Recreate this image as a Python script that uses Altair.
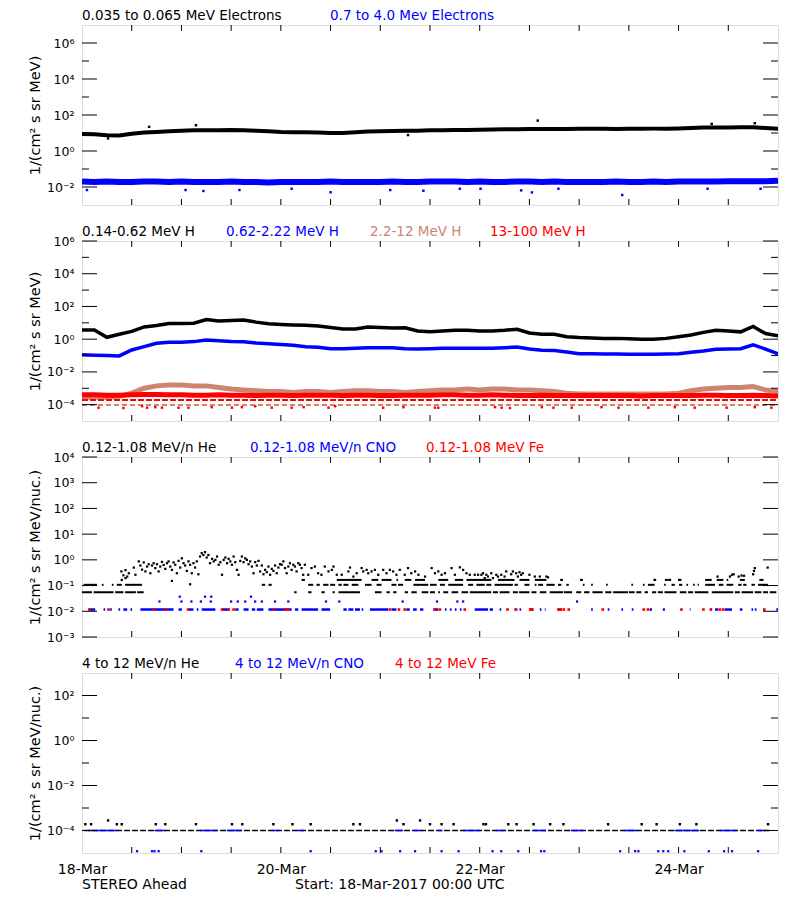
import altair as alt
import pandas as pd

START = pd.Timestamp("2017-03-18 00:00:00")
W, H = 696, 180
FONT = "DejaVu Sans"
BLACK, BLUE, RED, BROWN = "#000000", "#0000FF", "#FF0000", "#CD8570"

# ---------------- data (hours since 18-Mar-2017 00:00 UTC) ----------------
hours3 = list(range(0, 169, 3))

# Panel 1: electrons
e_low_black = [8.8, 8.5, 7.5, 7.2, 9.0, 10.5, 11.5, 12.5, 13.5, 14,
               14, 14, 14.5, 14, 13.5, 12.5, 11.5, 11, 11, 10.5,
               10, 10, 11, 12, 12.5, 13, 13.5, 13.5, 14, 14,
               14.5, 14.5, 15, 15.5, 16, 16, 16.5, 16.5, 16.5, 16.5,
               17, 17, 17, 16.5, 17, 17, 17.5, 17.5, 18, 19,
               20, 20, 20.5, 21, 21, 19, 17]
e_high_blue = [0.020, 0.019, 0.020, 0.019, 0.019, 0.020, 0.020, 0.019, 0.020, 0.019,
               0.019, 0.019, 0.020, 0.019, 0.019, 0.018, 0.019, 0.019, 0.019, 0.019,
               0.020, 0.019, 0.019, 0.019, 0.019, 0.020, 0.019, 0.019, 0.020, 0.020,
               0.020, 0.019, 0.020, 0.019, 0.019, 0.020, 0.020, 0.019, 0.020, 0.019,
               0.019, 0.019, 0.019, 0.020, 0.019, 0.019, 0.020, 0.019, 0.020, 0.020,
               0.020, 0.020, 0.021, 0.021, 0.021, 0.021, 0.022]
e_black_out_h = [6.3, 16.2, 27.5, 78.7, 110, 152, 162.4]
e_black_out_v = [5.0, 22, 27, 7.7, 49, 32, 35]
e_blue_out_h = [1.2, 25, 29.3, 38, 50.6, 60, 74.4, 82.4, 91.2, 96.2, 106, 108.6, 115, 130.4, 151, 163.8]
e_blue_out_v = [0.0068, 0.0068, 0.006, 0.0068, 0.008, 0.0051, 0.0068, 0.0062, 0.008, 0.008,
                0.0065, 0.005, 0.008, 0.0036, 0.008, 0.008]

# Panel 2: protons
h_014_062 = [3.7, 3.7, 1.3, 2.0, 3.0, 5.6, 6.9, 9.1, 9.1, 9.5,
             16, 13, 14, 15, 11, 8.7, 7.9, 7.4, 7.1, 6.3,
             5.2, 4.2, 4.2, 5.6, 5.2, 4.8, 5.0, 3.2, 2.8, 3.2,
             3.5, 3.5, 3.2, 3.2, 3.5, 4.0, 2.4, 2.0, 2.0, 1.4,
             1.26, 1.2, 1.12, 1.12, 1.05, 1.0, 1.0, 1.12, 1.4, 1.8,
             2.6, 3.5, 3.2, 2.8, 6.0, 2.2, 1.6]
h_062_222 = [0.11, 0.105, 0.10, 0.095, 0.22, 0.35, 0.56, 0.66, 0.66, 0.71,
             0.89, 0.79, 0.72, 0.69, 0.58, 0.52, 0.48, 0.42, 0.35, 0.32,
             0.26, 0.26, 0.28, 0.30, 0.30, 0.30, 0.26, 0.25, 0.26, 0.28,
             0.28, 0.28, 0.28, 0.28, 0.30, 0.33, 0.25, 0.21, 0.20, 0.166,
             0.13, 0.13, 0.126, 0.126, 0.12, 0.12, 0.12, 0.126, 0.13, 0.16,
             0.19, 0.24, 0.25, 0.26, 0.45, 0.25, 0.126]
h_22_12 = [2.8e-4, 2.8e-4, 2.8e-4, 3.2e-4, 5e-4, 1e-3, 1.4e-3, 1.6e-3, 1.6e-3, 1.4e-3,
           1.4e-3, 1.1e-3, 8.9e-4, 7.9e-4, 7.1e-4, 6.3e-4, 6.3e-4, 5.6e-4, 6.3e-4, 6.3e-4,
           5.6e-4, 6.3e-4, 7.1e-4, 7.1e-4, 6.3e-4, 6.3e-4, 5.6e-4, 6.3e-4, 7.1e-4, 7.9e-4,
           7.9e-4, 8.9e-4, 7.9e-4, 8.9e-4, 8.9e-4, 7.9e-4, 7.9e-4, 7.1e-4, 6.3e-4, 5e-4,
           4.5e-4, 4.5e-4, 4.5e-4, 4.5e-4, 4.5e-4, 4.5e-4, 4.5e-4, 4.5e-4, 5e-4, 7.1e-4,
           8.9e-4, 1e-3, 1.1e-3, 1.1e-3, 1.26e-3, 7.9e-4, 6.3e-4]
h_13_100 = [4.0e-4, 4.0e-4, 3.8e-4, 3.8e-4, 4.0e-4, 4.2e-4, 4.2e-4, 4.0e-4, 4.0e-4, 3.8e-4,
            3.8e-4, 4.0e-4, 3.8e-4, 3.8e-4, 3.6e-4, 3.8e-4, 3.8e-4, 3.6e-4, 3.8e-4, 3.8e-4,
            3.8e-4, 3.6e-4, 3.8e-4, 3.8e-4, 3.6e-4, 3.6e-4, 3.8e-4, 3.8e-4, 3.8e-4, 4.0e-4,
            4.0e-4, 3.8e-4, 3.8e-4, 4.0e-4, 3.8e-4, 3.6e-4, 3.6e-4, 3.8e-4, 3.6e-4, 3.6e-4,
            3.6e-4, 3.6e-4, 3.6e-4, 3.6e-4, 3.6e-4, 3.4e-4, 3.6e-4, 3.6e-4, 3.6e-4, 3.6e-4,
            3.8e-4, 3.8e-4, 3.6e-4, 3.6e-4, 3.8e-4, 3.6e-4, 3.4e-4]
h_13_100_row = 1.9e-4
h_22_12_row = 9.5e-5
h_13_100_low_h = [4.0, 10.0, 14.5, 15.7, 17.7, 19.3, 23.3, 25.7, 31.3, 36.2, 38.6, 41.8, 45.8, 50.6,
                  53.5, 59.5, 61.1, 72.7, 77.6, 85.2, 86.0, 99.7, 101.3, 103.3, 111.0, 113.8, 118.2,
                  125.4, 129.5, 136.7, 143.1, 147.9, 155.6, 162.4, 166.4]
h_13_100_low_v = [6.5e-5, 6.2e-5, 8e-5, 6.5e-5, 7e-5, 6.5e-5, 6.5e-5, 6.5e-5, 7e-5, 6.5e-5, 7e-5, 8e-5,
                  6.5e-5, 6.5e-5, 7e-5, 6.5e-5, 8e-5, 6.5e-5, 7e-5, 6.5e-5, 6.5e-5, 7e-5, 6.5e-5, 6.2e-5,
                  7e-5, 6.5e-5, 6.5e-5, 7e-5, 6.5e-5, 6.5e-5, 7e-5, 6.5e-5, 6.5e-5, 7e-5, 6.5e-5]

# Panel 3: 0.12-1.08 MeV/n
he_cloud_h = [9.5, 10.0, 10.5, 10.9, 11.3, 12.5, 12.9, 13.7, 14.1, 14.5, 14.9, 15.3, 15.7, 16.1, 16.5,
              16.9, 17.3, 17.7, 18.1, 18.5, 18.9, 19.3, 19.7, 20.1, 20.5, 20.9, 21.3, 21.7, 22.1, 22.5,
              22.9, 23.3, 23.7, 24.1, 24.5, 24.9, 25.3, 25.7, 26.1, 26.5, 26.9, 27.3, 27.7, 28.1, 28.5,
              28.9, 29.3, 29.7, 30.1, 30.5, 30.9, 31.4, 31.8, 32.2, 32.6, 33.0, 33.4, 33.8, 34.2, 34.6,
              35.0, 35.4, 35.8, 36.2, 36.6, 37.0, 37.4, 37.8, 38.2, 38.6, 39.0, 39.4, 39.8, 40.2, 40.6,
              41.0, 41.4, 41.8, 42.2, 42.6, 43.0, 43.4, 43.8, 44.2, 44.6, 45.0, 45.4, 45.8, 46.2, 46.6,
              47.0, 47.4, 47.8, 9.6, 10.5, 21.7, 26.1,
              48.2, 48.6, 49.0, 49.4, 49.8, 50.2, 50.6, 51.0, 51.4, 51.8, 52.2, 52.6, 53.0, 53.4, 53.8,
              54.6, 55.4, 56.2, 57.0, 57.8, 58.6, 59.5, 60.3, 60.7, 61.5, 62.7, 64.3, 64.7, 65.5, 66.3,
              67.5, 67.9, 68.7, 69.1, 69.9, 70.7, 71.5, 72.7, 73.5, 74.3, 75.1, 75.9, 76.7, 77.9, 78.7,
              79.5, 80.4, 81.2, 82.8, 84.4, 85.2, 86.0, 86.8, 87.6, 89.2, 90.0, 91.2, 92.0, 92.8, 93.6,
              94.8, 95.6,
              96.4, 96.8, 97.2, 97.6, 98.0, 98.8, 99.2, 100.0, 100.4, 101.2, 102.0, 102.4, 103.6, 104.0,
              104.8, 105.2, 105.6, 106.0, 106.4, 108.0, 109.3, 110.5, 112.1, 112.5, 115.7, 120.5, 138.2,
              141.8, 144.2,
              153.4, 156.4, 156.9, 157.3, 158.5, 159.2, 159.8, 162.0, 162.2, 162.4, 165.5]
he_cloud_log10 = [-0.45, -0.6, -0.4, -0.65, -0.52, -0.3, -0.58, -0.06, -0.22, -0.38, -0.1, -0.45, -0.26, -0.17, -0.52,
                  -0.22, -0.13, -0.32, -0.17, -0.45, -0.26, -0.08, -0.2, -0.35, -0.13, -0.06, -0.26, -0.39, -0.1, -0.19,
                  -0.52, -0.04, -0.3, 0.06, -0.13, -0.22, -0.43, -0.06, -0.19, -0.52, -0.13, -0.3, -0.06, -0.56, 0.13,
                  0.26, 0.19, 0.3, 0.09, 0.19, -0.13, 0.04, -0.06, 0.0, 0.13, -0.19, -0.09, -0.58, 0.0, 0.09,
                  -0.13, 0.04, -0.06, -0.19, 0.13, -0.09, -0.39, -0.58, -0.04, 0.13, -0.09, 0.06, 0.0, -0.17, -0.06,
                  -0.26, -0.52, -0.09, -0.22, -0.04, -0.45, -0.22, -0.56, -0.39, -0.48, -0.26, -0.58, -0.35, -0.43, -0.22,
                  -0.52, -0.3, -0.17, -0.78, -0.71, -0.82, -0.95,
                  -0.19, -0.06, -0.32, -0.52, -0.26, -0.13, -0.39, -0.19, -0.26, -0.45, -0.13, -0.19, -0.32, -0.58, -0.19,
                  -0.58, -0.32, -0.26, -0.52, -0.58, -0.26, -0.45, -0.39, -0.26, -0.58, -0.58, -0.45, -0.30, -0.65, -0.52,
                  -0.32, -0.45, -0.39, -0.52, -0.45, -0.39, -0.58, -0.39, -0.52, -0.39, -0.45, -0.58, -0.39, -0.58, -0.32,
                  -0.52, -0.45, -0.58, -0.65, -0.32, -0.52, -0.45, -0.58, -0.52, -0.32, -0.58, -0.29, -0.39, -0.52, -0.58,
                  -0.58, -0.58,
                  -0.58, -0.52, -0.71, -0.58, -0.65, -0.52, -0.71, -0.58, -0.65, -0.58, -0.65, -0.45, -0.56, -0.45,
                  -0.52, -0.65, -0.48, -0.58, -0.52, -0.58, -0.65, -0.65, -0.65, -0.68, -0.78, -0.78, -0.78,
                  -0.78, -0.78,
                  -0.65, -0.65, -0.58, -0.56, -0.65, -0.61, -0.62, -0.56, -0.43, -0.32, -0.30]
he_row_low = 0.055
he_row_low_segs = [[0, 2.4], [2.8, 7.6], [8, 10], [10.4, 13], [13.3, 14.9], [51.2, 51.8], [54.6, 55.4],
                   [57.8, 58.6], [60.5, 61], [61.9, 67.1], [70.7, 72.3], [73.5, 74.3], [75.1, 75.9],
                   [77.9, 78.7], [79.5, 80.8], [82, 83.6], [84, 85.2], [86, 86.4], [87.2, 88.4], [89.2, 90.8],
                   [91.6, 93.2], [93.6, 98.8], [99.2, 100.4], [100.8, 103.2], [104, 105.2], [105.5, 108],
                   [108.5, 109.7], [110.5, 112.1], [112.9, 116.1], [116.3, 118.3], [119.3, 120.5], [121.2, 122.5],
                   [123.2, 125.7], [126.3, 127.8], [128.2, 131.8], [132, 133.4], [133.8, 135], [135.8, 136.6],
                   [137.6, 138.6], [139, 140.2], [140.6, 143.5], [144.3, 145.9], [146.3, 147.5], [147.9, 151.2],
                   [152, 157.2], [157.6, 158.8], [159.2, 162], [162.4, 164], [164.4, 165.6], [166, 167.6]]
he_row_mid = 0.107
he_row_mid_segs = [[0.4, 3.6], [4.8, 5.2], [7.2, 7.6], [8.4, 9.6], [10.4, 14.5], [43.4, 44.2], [45, 45.8],
                   [54.6, 55.8], [56.6, 57.4], [58.2, 59.5], [59.9, 61.1], [61.9, 62.7], [63.1, 64.3],
                   [65.1, 66.7], [68.3, 69.9], [71.1, 72.3], [74.7, 75.9], [76.3, 77.5], [80, 83.6], [84, 85.6],
                   [86.4, 87.6], [88.4, 92], [93.2, 94.4], [95.2, 97.2], [97.6, 98.8], [99.6, 104], [104.4, 105.2],
                   [106.8, 108], [109.3, 109.7], [110.1, 111.3], [112.1, 114.1], [114.9, 115.7], [116.9, 117.5],
                   [120.9, 121.3], [122.9, 123.3], [126.5, 126.9], [132.6, 133], [135.4, 135.8], [136.6, 138.2],
                   [140.5, 140.9], [142.3, 143.1], [144.1, 144.9], [145.9, 146.3], [147.5, 147.9], [148.6, 148.9],
                   [150.4, 152.8], [153.7, 154.8], [155.6, 157.2], [158.4, 159.2], [159.6, 160.4], [161.6, 162.4],
                   [163.2, 165.6]]
he_row_high = 0.166
he_row_high_segs = [[53, 53.8], [61.5, 67.5], [69.9, 71.5], [72.3, 74.7], [75.9, 76.3], [77.9, 79.5],
                    [80.4, 82.8], [86, 88.4], [90, 92], [92.8, 98.8], [100.4, 104.4], [105.6, 108],
                    [109.3, 112.1], [115.7, 116.1], [120.5, 120.9], [138.2, 138.6], [140.7, 141.5],
                    [141.8, 142.2], [143.9, 144.7], [150.4, 152], [153.2, 154.8], [155.6, 156], [158.8, 160],
                    [163.5, 164.5]]
cno_row = 0.0117
cno_row_segs = [[1.6, 3.2], [5.2, 5.6], [6.8, 7.2], [8.8, 9.2], [10, 10.9], [11.7, 12.1], [14.1, 22.1],
                [23.3, 24.1], [25.7, 26.9], [27.7, 28.1], [28.9, 32.2], [33.8, 35.4], [37, 37.8], [39, 40.2],
                [41, 41.8], [42.2, 43.8], [45, 50.6], [51.4, 52.2], [53, 57], [57.8, 59.9], [63.1, 63.9],
                [64.3, 65.5], [65.9, 67.1], [67.5, 67.9], [69.5, 73.9], [74.7, 75.9], [78.3, 79.1], [79.9, 80.8],
                [81.6, 82.4], [84.8, 86], [87.6, 88], [88.8, 89.2], [90, 90.4], [91.2, 91.6], [94.8, 98],
                [98.4, 99.2], [100.8, 101.2], [104.4, 104.8], [105.6, 106], [108, 108.9], [110.5, 110.9],
                [111.7, 111.9], [114.9, 115.7], [122.9, 123.3], [126.9, 127.3], [130.2, 130.6], [132.7, 133.1],
                [137, 137.6], [140.2, 140.7], [146.7, 146.9], [151.6, 152], [152.8, 153.6], [155.2, 156.9],
                [158.8, 159.4], [161.6, 162], [162.4, 162.8], [167.6, 168]]
cno_up_h = [18.7, 24, 26.4, 28.7, 31.1, 36, 37.6, 39.4, 41.8, 43.4, 46.6, 49.8, 58.9, 62.1, 77.4, 85.7,
            90.6, 92, 119.5, 23.6, 29.7, 31.2, 40.8]
cno_up_v = [0.024, 0.024, 0.024, 0.024, 0.024, 0.024, 0.024, 0.024, 0.024, 0.024, 0.024, 0.024, 0.024,
            0.024, 0.024, 0.024, 0.024, 0.024, 0.024, 0.037, 0.037, 0.037, 0.037]
fe_h = [1.8, 6.4, 17.3, 20.1, 25.6, 33.8, 35.4, 36.6, 46.5, 49.2, 49.8, 74.3, 76.5, 77.9, 85.2, 86.4, 92.4,
        102.7, 104.8, 108.2, 108.7, 115.0, 115.6, 116.3, 117.5, 125.7, 135.6, 136.6, 144.7, 150, 151.8,
        154, 154.8, 164.7]
fe_v = 0.0117

# Panel 4: 4-12 MeV/n
he4_row = 1e-4
he4_row_segs = [[0.5, 166]]
cno4_row_segs = [[1.5, 8.5], [17.5, 20], [28.5, 32.5], [35, 38.5], [46, 47.5], [52, 53.5], [75.5, 77.5],
                 [80, 82], [86, 87], [92, 96], [100, 102], [109, 112], [118, 121], [131, 134], [143, 149],
                 [154, 158], [163, 165]]
he4_dots_h = [0.8, 2.2, 6.3, 8.4, 9.6, 17.8, 20.1, 27.5, 36.2, 38.7, 46.2, 50.8, 55.2, 65.5, 67.1, 76,
              77.6, 81.6, 84, 86.8, 89.7, 96.9, 97.5, 102.9, 104.9, 109, 113, 116.2, 127, 135.1, 138.7,
              144.3, 148.3, 165.6]
he4_dots_v = [1.9e-4, 1.9e-4, 2.8e-4, 1.9e-4, 1.9e-4, 1.9e-4, 1.9e-4, 1.9e-4, 1.9e-4, 1.9e-4, 1.9e-4,
              1.9e-4, 1.9e-4, 1.9e-4, 1.9e-4, 2.8e-4, 1.9e-4, 2.8e-4, 1.9e-4, 1.9e-4, 1.9e-4, 1.9e-4,
              1.9e-4, 1.9e-4, 1.9e-4, 1.9e-4, 1.9e-4, 1.9e-4, 1.9e-4, 1.9e-4, 1.9e-4, 1.9e-4, 1.9e-4, 1.9e-4]
cno4_low_h = [13.3, 16.9, 17.5, 18.5, 28.8, 55.2, 70.9, 72.3, 76.8, 80.4, 86.8, 90.9, 99.1, 101.2, 105.3,
              110.8, 111.6, 129.9, 133.5, 134.3, 139.1, 140.3, 141.5, 145.4, 151.3, 155, 156.9, 163.2]
cno4_low_v = 1.2e-5

# axes & titles
tick_hours = [12, 24, 36, 48, 60, 72, 84, 96, 108, 120, 132, 144, 156]
date_labels = [18, 20, 22, 24]
panel_titles = [
    [("0.035 to 0.065 MeV Electrons", BLACK), ("0.7 to 4.0 Mev Electrons", BLUE)],
    [("0.14-0.62 MeV H", BLACK), ("0.62-2.22 MeV H", BLUE), ("2.2-12 MeV H", BROWN), ("13-100 MeV H", RED)],
    [("0.12-1.08 MeV/n He", BLACK), ("0.12-1.08 MeV/n CNO", BLUE), ("0.12-1.08 MeV Fe", RED)],
    [("4 to 12 MeV/n He", BLACK), ("4 to 12 MeV/n CNO", BLUE), ("4 to 12 MeV Fe", RED)],
]
title_x = [[0, 248], [0, 144, 288, 408], [0, 168, 344], [0, 153, 313]]
y_titles = ["1/(cm² s sr MeV)", "1/(cm² s sr MeV)", "1/(cm² s sr MeV/nuc.)", "1/(cm² s sr MeV/nuc.)"]

LABEL_EXPR = ("'10' + (round(log(datum.value)/LN10) < 0 ? '⁻' : '') + "
              "['⁰','¹','²','³','⁴','⁵','⁶','⁷','⁸','⁹'][abs(round(log(datum.value)/LN10))]")


def ts(hours):
    return [START + pd.Timedelta(hours=float(h)) for h in hours]


def make_panel(idx, ydom, labeled, minor, series_layers, bottom=False):
    yscale = alt.Scale(type="log", domain=[10.0 ** ydom[0], 10.0 ** ydom[1]], nice=False)
    yaxis = alt.Axis(title=y_titles[idx], values=[10.0 ** e for e in labeled], labelExpr=LABEL_EXPR,
                     ticks=False, domain=False, grid=False, labelPadding=8, labelFontSize=12.5,
                     labelFont=FONT, labelColor="black", labelOverlap=False,
                     titleFont=FONT, titleFontSize=14.5, titleFontWeight="normal", titleColor="black",
                     titleX=-47, titleY=H / 2, titleBaseline="middle")
    xscale = alt.Scale(type="time", nice=False,
                       domain=[alt.DateTime(year=2017, month=3, date=18),
                               alt.DateTime(year=2017, month=3, date=25)])
    if bottom:
        xaxis = alt.Axis(title=None, values=[alt.DateTime(year=2017, month=3, date=d) for d in date_labels],
                         format="%d-%b", labelFlush=False, ticks=False, domain=False, grid=False,
                         labelPadding=9, labelFontSize=14, labelFont=FONT, labelColor="black",
                         labelOverlap=False)
    else:
        xaxis = None

    def X(f="t"):
        return alt.X(f + ":T", scale=xscale, axis=xaxis)

    def Y(f="v"):
        return alt.Y(f + ":Q", scale=yscale, axis=yaxis)

    def line(hours, vals, color, width, opacity=1.0):
        df = pd.DataFrame({"t": ts(hours), "v": vals})
        return alt.Chart(df).mark_line(color=color, strokeWidth=width, clip=True,
                                       opacity=opacity).encode(x=X(), y=Y())

    def pts(hours, vals, color, size):
        if not isinstance(vals, list):
            vals = [vals] * len(hours)
        df = pd.DataFrame({"t": ts(hours), "v": vals})
        return alt.Chart(df).mark_square(color=color, size=size, opacity=1, clip=True).encode(x=X(), y=Y())

    def segs(seglist, value, color, width, dash=None):
        df = pd.DataFrame({"t": ts([s[0] for s in seglist]), "t2": ts([s[1] for s in seglist]),
                           "v": [value] * len(seglist)})
        kw = dict(color=color, strokeWidth=width, clip=True)
        if dash is not None:
            kw["strokeDash"] = dash
        return alt.Chart(df).mark_rule(**kw).encode(x=X(), x2="t2:T", y=Y())

    layers = series_layers(line, pts, segs)

    # inward ticks
    maj = pd.DataFrame({"v": [10.0 ** e for e in labeled]})
    layers.append(alt.Chart(maj).mark_rule(color="black").encode(y=Y(), x=alt.value(0), x2=alt.value(15)))
    layers.append(alt.Chart(maj).mark_rule(color="black").encode(y=Y(), x=alt.value(W - 15), x2=alt.value(W)))
    if minor:
        mnr = pd.DataFrame({"v": [10.0 ** e for e in minor]})
        layers.append(alt.Chart(mnr).mark_rule(color="black").encode(y=Y(), x=alt.value(0), x2=alt.value(7)))
        layers.append(alt.Chart(mnr).mark_rule(color="black").encode(y=Y(), x=alt.value(W - 7), x2=alt.value(W)))
    xt = pd.DataFrame({"t": ts(tick_hours)})
    layers.append(alt.Chart(xt).mark_rule(color="black").encode(x=X(), y=alt.value(0), y2=alt.value(6)))
    layers.append(alt.Chart(xt).mark_rule(color="black").encode(x=X(), y=alt.value(H - 6), y2=alt.value(H)))

    # coloured legend titles
    for (txt, col), xp in zip(panel_titles[idx], title_x[idx]):
        layers.append(alt.Chart(pd.DataFrame({"label": [txt]})).mark_text(
            align="left", baseline="alphabetic", fontSize=13.5, font=FONT, color=col
        ).encode(text="label:N", x=alt.value(xp), y=alt.value(-5)))

    if bottom:
        layers.append(alt.Chart(pd.DataFrame({"label": ["STEREO Ahead"]})).mark_text(
            align="left", baseline="alphabetic", fontSize=14, font=FONT, color="black"
        ).encode(text="label:N", x=alt.value(0), y=alt.value(H + 36)))
        layers.append(alt.Chart(pd.DataFrame({"label": ["Start: 18-Mar-2017 00:00 UTC"]})).mark_text(
            align="left", baseline="alphabetic", fontSize=14, font=FONT, color="black"
        ).encode(text="label:N", x=alt.value(213), y=alt.value(H + 36)))

    return alt.layer(*layers).properties(width=W, height=H)


def p1(line, pts, segs):
    return [
        line(hours3, e_high_blue, BLUE, 6),
        pts(e_blue_out_h, e_blue_out_v, BLUE, 6),
        line(hours3, e_low_black, BLACK, 4),
        pts(e_black_out_h, e_black_out_v, BLACK, 6),
    ]


def p2(line, pts, segs):
    return [
        segs([[0, 168]], h_22_12_row, BROWN, 2, [5, 3]),
        line(hours3, h_22_12, BROWN, 5),
        segs([[0, 168]], h_13_100_row, RED, 2, [6, 2]),
        pts(h_13_100_low_h, h_13_100_low_v, RED, 6),
        line(hours3, h_13_100, RED, 5),
        line(hours3, h_062_222, BLUE, 3.5),
        line(hours3, h_014_062, BLACK, 3.5),
    ]


def p3(line, pts, segs):
    return [
        segs(he_row_low_segs, he_row_low, BLACK, 2),
        segs(he_row_mid_segs, he_row_mid, BLACK, 2),
        segs(he_row_high_segs, he_row_high, BLACK, 2),
        pts(he_cloud_h, [10.0 ** v for v in he_cloud_log10], BLACK, 5),
        segs(cno_row_segs, cno_row, BLUE, 2.5),
        pts(cno_up_h, cno_up_v, BLUE, 5),
        pts(fe_h, fe_v, RED, 7),
    ]


def p4(line, pts, segs):
    return [
        segs(he4_row_segs, he4_row, BLACK, 1.5, [6, 2]),
        segs(cno4_row_segs, he4_row, BLUE, 1.5),
        pts(he4_dots_h, he4_dots_v, BLACK, 6),
        pts(cno4_low_h, cno4_low_v, BLUE, 5),
    ]


panels = [
    make_panel(0, (-3, 7), [-2, 0, 2, 4, 6], [-1, 1, 3, 5], p1),
    make_panel(1, (-5, 6), [-4, -2, 0, 2, 4, 6], [-3, -1, 1, 3, 5], p2),
    make_panel(2, (-3, 4), [-3, -2, -1, 0, 1, 2, 3, 4], [], p3),
    make_panel(3, (-5, 3), [-4, -2, 0, 2], [-3, -1, 1], p4, bottom=True),
]

chart = alt.vconcat(*panels, spacing=36, bounds="flush").properties(
    padding={"left": 18, "top": 0, "right": 10, "bottom": 5},
    background="white",
).configure_view(stroke="black", strokeWidth=1).configure(font=FONT)

chart.save("out.html", embed_options={"renderer": "svg", "actions": False})
